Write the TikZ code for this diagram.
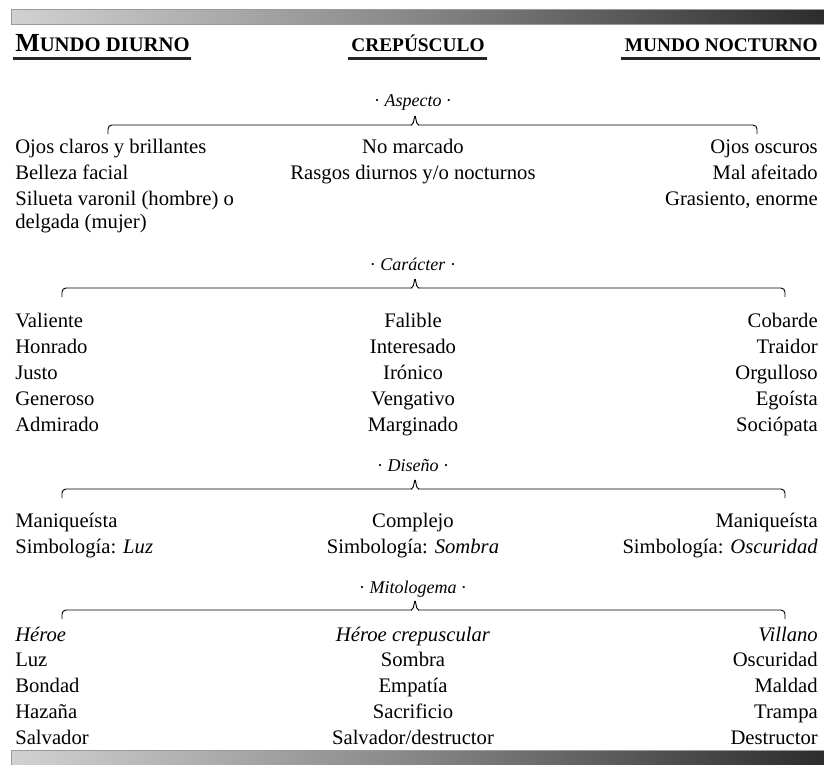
\documentclass[tikz,border=0pt]{standalone}
\usepackage{fontspec}
\setmainfont{Liberation Serif}
\usetikzlibrary{positioning, calc}
\pgfdeclarehorizontalshading{barshade}{100bp}{color(0bp)=(white); color(10bp)=(white); color(50bp)=(black!48); color(86bp)=(black); color(100bp)=(black)}
\tikzset{
    entry/.style={font=\fontsize{15.5}{18}\selectfont, inner sep=0pt},
    left entry/.style={entry, anchor=base west},
    right entry/.style={entry, anchor=base east},
    mid entry/.style={entry, anchor=base},
    section label/.style={font=\fontsize{13.5}{16}\selectfont, inner sep=0pt, anchor=base},
    header/.style={font=\fontsize{14.5}{17}\selectfont\bfseries, inner sep=0pt, anchor=base},
    header_rule/.style={line width=1.9pt, black!85},
    gradient_bar/.style={draw=gray!80, line width=0.7pt, shading=barshade},
    section_brace/.style={draw, line width=0.7pt, rounded corners=3pt},
    brace_tip/.style={draw, line width=0.7pt, rounded corners=1pt}
}

\begin{document}
\begin{tikzpicture}[x=0.75pt, y=-0.75pt]
      \useasboundingbox (0,0) rectangle (824,764);
      \clip (0,0) rectangle (824,764);

      % --- Bars ---
      \draw[gradient_bar] (11,9) rectangle (840,24);
      \draw[gradient_bar] (11,750) rectangle (840,780);

      % --- Headers ---
      \node (hdDia) [header, font=\fontsize{15.5}{17}\selectfont\bfseries, anchor=base west] at (15,51) {{\fontsize{19.5}{20}\selectfont M}UNDO DIURNO};
      \node (hdCrep) [header] at (418,51) {CREPÚSCULO};
      \node (hdNoche) [header, anchor=base east] at (818,51) {MUNDO NOCTURNO};
      \draw[header_rule] ([shift={(-2,7)}]hdDia.south west) -- ([shift={(1,7)}]hdDia.south east);
      \draw[header_rule] ([shift={(-3,7)}]hdCrep.south west) -- ([shift={(2,7)}]hdCrep.south east);
      \draw[header_rule] ([shift={(-4,7)}]hdNoche.south west) -- ([shift={(2,7)}]hdNoche.south east);

      % --- Aspecto ---
      \node (lblAspecto) [section label] at (413,106) {· \textit{Aspecto} ·};
      \draw[section_brace] (108,134) |- (412,125);
      \draw[section_brace] (418,125) -| (757,134);
      \draw[brace_tip] (411,125) -- (413,124) -- (415,115) -- (417,124) -- (419,125);
      \node (diaA1) [left entry] at (15,153) {Ojos claros y brillantes};
      \node (diaA2) [left entry] at (15,179) {Belleza facial};
      \node (diaA3) [left entry] at (15,205) {Silueta varonil (hombre) o};
      \node (diaA4) [left entry] at (15,228) {delgada (mujer)};
      \node (crepA1) [mid entry] at (413,153) {No marcado};
      \node (crepA2) [mid entry] at (413,179) {Rasgos diurnos y/o nocturnos};
      \node (nocheA1) [right entry] at (818,153) {Ojos oscuros};
      \node (nocheA2) [right entry] at (818,179) {Mal afeitado};
      \node (nocheA3) [right entry] at (818,205) {Grasiento, enorme};

      % --- Caracter ---
      \node (lblCaracter) [section label] at (413,270) {· \textit{Carácter} ·};
      \draw[section_brace] (62,297) |- (412,288);
      \draw[section_brace] (418,288) -| (785,297);
      \draw[brace_tip] (411,288) -- (413,287) -- (415,278) -- (417,287) -- (419,288);
      \node (diaC1) [left entry] at (15,327) {Valiente};
      \node (diaC2) [left entry] at (15,353) {Honrado};
      \node (diaC3) [left entry] at (15,379) {Justo};
      \node (diaC4) [left entry] at (15,405) {Generoso};
      \node (diaC5) [left entry] at (15,431) {Admirado};
      \node (crepC1) [mid entry] at (413,327) {Falible};
      \node (crepC2) [mid entry] at (413,353) {Interesado};
      \node (crepC3) [mid entry] at (413,379) {Irónico};
      \node (crepC4) [mid entry] at (413,405) {Vengativo};
      \node (crepC5) [mid entry] at (413,431) {Marginado};
      \node (nocheC1) [right entry] at (818,327) {Cobarde};
      \node (nocheC2) [right entry] at (818,353) {Traidor};
      \node (nocheC3) [right entry] at (818,379) {Orgulloso};
      \node (nocheC4) [right entry] at (818,405) {Egoísta};
      \node (nocheC5) [right entry] at (818,431) {Sociópata};

      % --- Diseno ---
      \node (lblDiseno) [section label] at (413,471) {· \textit{Diseño} ·};
      \draw[section_brace] (62,498) |- (412,489);
      \draw[section_brace] (418,489) -| (785,498);
      \draw[brace_tip] (411,489) -- (413,488) -- (415,479) -- (417,488) -- (419,489);
      \node (diaD1) [left entry] at (15,527) {Maniqueísta};
      \node (diaD2) [left entry] at (15,553) {Simbología: \textit{Luz}};
      \node (crepD1) [mid entry] at (413,527) {Complejo};
      \node (crepD2) [mid entry] at (413,553) {Simbología: \textit{Sombra}};
      \node (nocheD1) [right entry] at (818,527) {Maniqueísta};
      \node (nocheD2) [right entry] at (818,553) {Simbología: \textit{Oscuridad}};

      % --- Mitologema ---
      \node (lblMito) [section label] at (413,593) {· \textit{Mitologema} ·};
      \draw[section_brace] (62,619) |- (412,610);
      \draw[section_brace] (418,610) -| (785,619);
      \draw[brace_tip] (411,610) -- (413,609) -- (415,600) -- (417,609) -- (419,610);
      \node (diaM1) [left entry] at (15,641) {\textit{Héroe}};
      \node (diaM2) [left entry] at (15,666) {Luz};
      \node (diaM3) [left entry] at (15,692) {Bondad};
      \node (diaM4) [left entry] at (15,718) {Hazaña};
      \node (diaM5) [left entry] at (15,744) {Salvador};
      \node (crepM1) [mid entry] at (413,641) {\textit{Héroe crepuscular}};
      \node (crepM2) [mid entry] at (413,666) {Sombra};
      \node (crepM3) [mid entry] at (413,692) {Empatía};
      \node (crepM4) [mid entry] at (413,718) {Sacrificio};
      \node (crepM5) [mid entry] at (413,744) {Salvador/destructor};
      \node (nocheM1) [right entry] at (818,641) {\textit{Villano}};
      \node (nocheM2) [right entry] at (818,666) {Oscuridad};
      \node (nocheM3) [right entry] at (818,692) {Maldad};
      \node (nocheM4) [right entry] at (818,718) {Trampa};
      \node (nocheM5) [right entry] at (818,744) {Destructor};
\end{tikzpicture}
\end{document}
